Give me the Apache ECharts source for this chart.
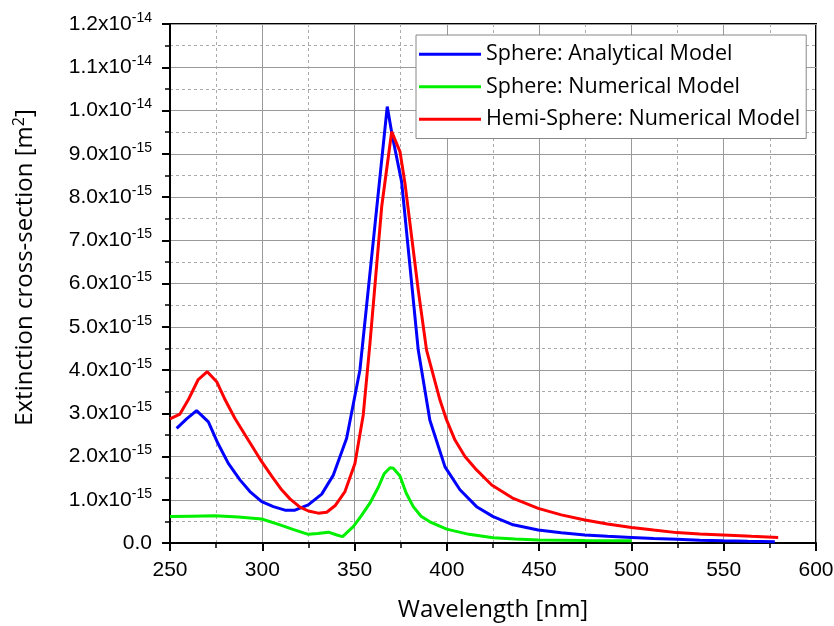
<!DOCTYPE html>
<html>
<head>
<meta charset="utf-8">
<script src="https://cdn.jsdelivr.net/npm/echarts@6/dist/echarts.min.js"></script>
<style>html,body{margin:0;padding:0;background:#fff;}#c{width:834px;height:626px;}</style>
</head>
<body>
<div id="c"></div>
<script>
// values in units of 1e-15 m^2
const seriesNames = ['Sphere: Analytical Model', 'Sphere: Numerical Model', 'Hemi-Sphere: Numerical Model'];
const blueX = [253.6, 259, 264.4, 270.8, 276, 281.6, 287.9, 293.3, 299.7, 306, 312.3, 317.7, 324.9, 332.2, 338.5, 345.7, 352.9, 367.7, 370.5, 375.5, 384.5, 390.8, 399, 407.1, 416.1, 425.1, 435.9, 449.5, 462, 474.8, 487, 500.1, 512, 524.5, 537, 549.7, 563, 577.7];
const blueY = [2.65, 2.87, 3.06, 2.80, 2.30, 1.84, 1.46, 1.19, 0.955, 0.84, 0.76, 0.76, 0.88, 1.13, 1.57, 2.42, 4.0, 10.09, 9.4, 8.35, 4.46, 2.84, 1.76, 1.23, 0.84, 0.61, 0.42, 0.30, 0.235, 0.185, 0.155, 0.13, 0.105, 0.085, 0.065, 0.05, 0.04, 0.03];
const greenX = [250, 262, 274.4, 287, 299.7, 309.6, 317, 324.9, 330, 335.8, 340, 343.5, 349.3, 353.5, 358.3, 363, 366, 369.2, 371, 374.6, 378, 381.8, 386, 390.8, 399.9, 412, 425.1, 437, 449.5, 475, 500.1];
const greenY = [0.61, 0.62, 0.63, 0.60, 0.555, 0.42, 0.31, 0.20, 0.22, 0.25, 0.19, 0.146, 0.38, 0.62, 0.92, 1.30, 1.60, 1.74, 1.73, 1.55, 1.15, 0.84, 0.62, 0.49, 0.32, 0.20, 0.12, 0.09, 0.07, 0.055, 0.05];
const redX = [250, 255.4, 259.9, 265.3, 270.2, 275.3, 280, 285.2, 292.4, 299.7, 305, 310.5, 315, 320.4, 325, 330.3, 334.9, 339.4, 344.8, 350.2, 354.7, 358.3, 364.7, 370.1, 374.6, 377.3, 384.5, 389, 396.3, 399.9, 404.4, 409.8, 416.1, 424.3, 436, 449.5, 462, 474.8, 487, 500.1, 512, 524.5, 537, 549.7, 565, 579.5];
const redY = [2.87, 2.98, 3.31, 3.78, 3.96, 3.73, 3.30, 2.88, 2.38, 1.88, 1.55, 1.23, 1.02, 0.83, 0.74, 0.69, 0.71, 0.86, 1.19, 1.84, 2.96, 4.6, 7.78, 9.51, 9.05, 8.32, 5.85, 4.46, 3.30, 2.84, 2.38, 2.0, 1.69, 1.34, 1.03, 0.80, 0.65, 0.53, 0.44, 0.36, 0.30, 0.24, 0.21, 0.185, 0.155, 0.13];
const colors = ['#0000ff', '#00f000', '#ff0000'];

function pairs(xs, ys) { return xs.map((x, i) => [x, ys[i]]); }

function yLabel(v) {
  if (Math.abs(v) < 1e-9) return '{b|0.0}';
  if (v >= 10 - 1e-9) return '{b|' + (v / 10).toFixed(1) + 'x10}{s|-14}';
  return '{b|' + v.toFixed(1) + 'x10}{s|-15}';
}

const chart = echarts.init(document.getElementById('c'));
const mk = (name, xs, ys, c) => ({
  name: name, type: 'line', data: pairs(xs, ys), symbol: 'none', smooth: false,
  lineStyle: { color: c, width: 3 }, itemStyle: { color: c }, z: 5
});
chart.setOption({
  animation: false,
  backgroundColor: '#fff',
  grid: { left: 170, right: 18, top: 24, bottom: 83, show: true, borderColor: '#000', borderWidth: 2, outerBoundsMode: 'none', containLabel: false },
  legend: {
    orient: 'vertical', left: 416, top: 35, icon: 'rect',
    padding: [8, 6, 8, 3], itemGap: 10, itemWidth: 62, itemHeight: 3,
    backgroundColor: '#fff', borderColor: '#888', borderWidth: 1,
    textStyle: { fontFamily: 'Open Sans', fontSize: 21.5, color: '#000', lineHeight: 22.5 },
    data: seriesNames
  },
  xAxis: {
    type: 'value', min: 250, max: 600, interval: 50,
    name: 'Wavelength [nm]', nameLocation: 'middle', nameGap: 55,
    nameTextStyle: { fontFamily: 'Open Sans', fontSize: 24, color: '#000' },
    axisLine: { lineStyle: { color: '#000', width: 2 } },
    axisTick: { show: true, inside: false, length: 8, lineStyle: { color: '#000', width: 2 } },
    minorTick: { show: true, splitNumber: 2, length: 5, lineStyle: { color: '#000', width: 1.5 } },
    axisLabel: { fontFamily: 'Liberation Sans', fontSize: 21, color: '#000', margin: 17 },
    splitLine: { show: true, lineStyle: { color: '#999', width: 1 } },
    minorSplitLine: { show: true, lineStyle: { color: '#aaa', width: 1, type: [3, 3] } }
  },
  yAxis: {
    type: 'value', min: 0, max: 12, interval: 1,
    name: '{t|Extinction cross-section [m}{s|2}{t|]}', nameLocation: 'middle', nameGap: 131, nameRotate: 90,
    nameTextStyle: { padding: [0, 0, 0, 32], rich: {
      t: { fontFamily: 'Open Sans', fontSize: 24, color: '#000' },
      s: { fontFamily: 'Open Sans', fontSize: 16, color: '#000', padding: [0, 0, 12, 0] }
    } },
    axisLine: { lineStyle: { color: '#000', width: 2 } },
    axisTick: { show: true, inside: false, length: 8, lineStyle: { color: '#000', width: 2 } },
    minorTick: { show: true, splitNumber: 2, length: 5, lineStyle: { color: '#000', width: 1.5 } },
    axisLabel: {
      margin: 18, formatter: yLabel,
      rich: {
        b: { fontFamily: 'Liberation Sans', fontSize: 21, color: '#000' },
        s: { fontFamily: 'Liberation Sans', fontSize: 14, color: '#000', padding: [0, 0, 12, 0] }
      }
    },
    splitLine: { show: true, lineStyle: { color: '#999', width: 1 } },
    minorSplitLine: { show: true, lineStyle: { color: '#aaa', width: 1, type: [3, 3] } }
  },
  series: [
    mk(seriesNames[0], blueX, blueY, colors[0]),
    mk(seriesNames[1], greenX, greenY, colors[1]),
    mk(seriesNames[2], redX, redY, colors[2])
  ]
});
</script>
</body>
</html>
